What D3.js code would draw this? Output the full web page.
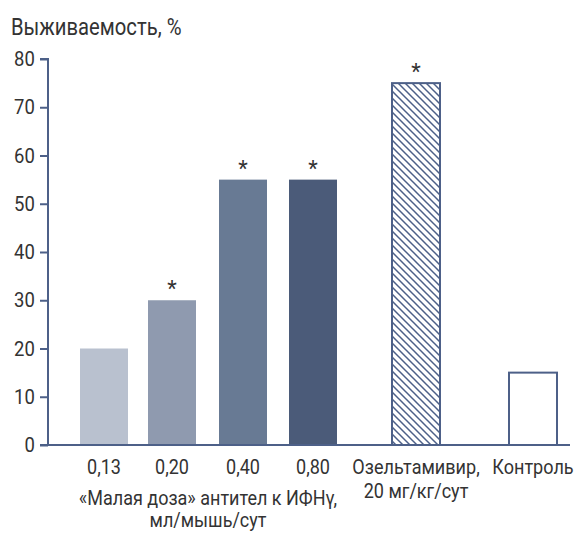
<!DOCTYPE html>
<html>
<head>
<meta charset="utf-8">
<script src="https://cdn.jsdelivr.net/npm/d3@7"></script>
<style>
  body { margin: 0; background: #fff; }
  text { font-family: "Roboto", sans-serif; fill: #333; }
</style>
</head>
<body>
<script>
// chart data
var categories = ['0,13', '0,20', '0,40', '0,80', 'Озельтамивир', 'Контроль'];
var values = [20, 30, 55, 55, 75, 15];
var starred = [false, true, true, true, true, false];
var yTicks = [0, 10, 20, 30, 40, 50, 60, 70, 80];
var labels = [['0,13'], ['0,20'], ['0,40'], ['0,80'], ['Озельтамивир,', '20 мг/кг/сут'], ['Контроль']];
var caption = ['«Малая доза» антител к ИФНγ,', 'мл/мышь/сут'];
var fills = ['#b9c1cf', '#8f9aaf', '#687a94', '#4b5b79', 'url(#hatch)', '#fff'];

var width = 577, height = 537;
var axisColor = '#4d6088';
var squeeze = 0.86; // narrow the font like the condensed original

var svg = d3.select('body').append('svg')
  .attr('width', width)
  .attr('height', height);

// condensed-looking text helper
function addText(x, y, str, size, anchor, sx) {
  return svg.append('text')
    .attr('transform', 'translate(' + x + ',' + y + ') scale(' + (sx || squeeze) + ',1)')
    .attr('text-anchor', anchor || 'middle')
    .style('font-size', size + 'px')
    .text(str);
}

// diagonal hatch for the oseltamivir bar
var pat = svg.append('defs').append('pattern')
  .attr('id', 'hatch')
  .attr('patternUnits', 'userSpaceOnUse')
  .attr('width', 7)
  .attr('height', 7);
pat.append('rect').attr('width', 7).attr('height', 7).attr('fill', '#fff');
pat.append('path')
  .attr('d', 'M0,0L7,7M-1,6L1,8M6,-1L8,1')
  .attr('stroke', axisColor)
  .attr('stroke-width', 1.5);

// scales
var y = d3.scaleLinear().domain([0, 80]).range([445, 59]);
var x = d3.scaleOrdinal()
  .domain(categories)
  .range([104, 172, 243, 313, 416, 533]); // bar centres
var barW = 48;

// y axis
var yAxis = svg.append('g')
  .attr('transform', 'translate(48,0)')
  .call(d3.axisLeft(y).tickValues(yTicks).tickSize(8).tickPadding(7).tickFormat(d3.format('d')));
yAxis.select('.domain').attr('d', 'M-8,' + y(80) + 'H0V' + y(0) + 'H-8')
  .attr('stroke', axisColor).attr('stroke-width', 2);
yAxis.selectAll('.tick line').attr('stroke', axisColor).attr('stroke-width', 2);
yAxis.selectAll('.tick text')
  .style('font-size', '21px')
  .attr('fill', '#333')
  .attr('transform', 'scale(0.88,1)');

// bars
svg.selectAll('rect.bar')
  .data(values)
  .enter().append('rect')
  .attr('class', 'bar')
  .attr('x', function(d, i) { return x(categories[i]) - barW / 2; })
  .attr('y', function(d) { return y(d); })
  .attr('width', barW)
  .attr('height', function(d) { return y(0) - y(d); })
  .attr('fill', function(d, i) { return fills[i]; })
  .attr('stroke', function(d, i) { return i < 4 ? 'none' : axisColor; })
  .attr('stroke-width', 2);

// baseline
svg.append('line')
  .attr('x1', 48).attr('x2', 570)
  .attr('y1', y(0)).attr('y2', y(0))
  .attr('stroke', axisColor).attr('stroke-width', 2);

// asterisks over significant bars
values.forEach(function(d, i) {
  if (starred[i]) addText(x(categories[i]), y(d) - 4, '*', 22, 'middle', 1);
});

// category labels
labels.forEach(function(lines, i) {
  lines.forEach(function(t, j) {
    addText(x(categories[i]), 474 + j * 24, t, 21);
  });
});

// group caption
caption.forEach(function(t, j) {
  addText(208, 505 + j * 22, t, 20, 'middle', 0.9);
});

// y title
addText(11, 35, 'Выживаемость, %', 23, 'start', 0.88);
</script>
</body>
</html>
